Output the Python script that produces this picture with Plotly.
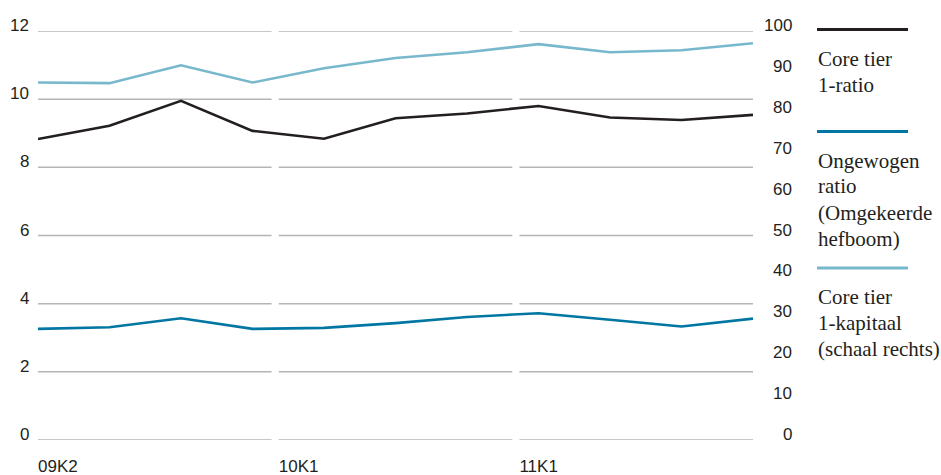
import plotly.graph_objects as go

# Quarterly capital figures, Q2 2009 - Q4 2011
quarters = ["09K2", "09K3", "09K4", "10K1", "10K2", "10K3", "10K4",
            "11K1", "11K2", "11K3", "11K4"]
core_tier1_ratio = [8.83, 9.22, 9.95, 9.07, 8.84, 9.44, 9.58, 9.80, 9.46, 9.39, 9.54]
unweighted_ratio = [3.26, 3.31, 3.57, 3.26, 3.29, 3.43, 3.61, 3.72, 3.53, 3.33, 3.56]
core_tier1_capital = [87.4, 87.25, 91.6, 87.4, 90.9, 93.4, 94.8, 96.8, 94.8, 95.3, 97.0]

year_labels = ["09K2", "10K1", "11K1"]
left_ticks = [0, 2, 4, 6, 8, 10, 12]
right_ticks = [0, 10, 20, 30, 40, 50, 60, 70, 80, 90, 100]

BLACK = "#231f20"
DARK_BLUE = "#0076a3"
LIGHT_BLUE = "#78b8cc"
GRID = "#b5b5b5"
SANS = dict(family="Liberation Sans", size=17, color="#231f20")

W, H = 941, 475
ML, MR, MT, MB = 38, 188, 31, 35
PW, PH = W - ML - MR, H - MT - MB


def px_x(px):
    return (px - ML) / PW


def px_y(py):
    return (H - MB - py) / PH


xs = list(range(len(quarters)))
fig = go.Figure()
fig.add_trace(go.Scatter(x=xs, y=core_tier1_capital, yaxis="y2", mode="lines",
                         line=dict(color=LIGHT_BLUE, width=2.6)))
fig.add_trace(go.Scatter(x=xs, y=core_tier1_ratio, mode="lines",
                         line=dict(color=BLACK, width=2.6)))
fig.add_trace(go.Scatter(x=xs, y=unweighted_ratio, mode="lines",
                         line=dict(color=DARK_BLUE, width=2.6)))

# Gridlines split into three year blocks with small gaps between them
x_max = len(quarters) - 1
gap = 0.1
seg = (x_max - 2 * gap) / 3
seg_starts = [i * (seg + gap) for i in range(3)]
shapes = []
for v in left_ticks:
    for s in seg_starts:
        shapes.append(dict(type="line", xref="x", yref="y", x0=s, x1=s + seg,
                           y0=v, y1=v, line=dict(color=GRID, width=1.5), layer="below"))

# Legend drawn at the right
legend_items = [
    (BLACK, 29.5, ["Core tier", "1-ratio"], 59),
    (DARK_BLUE, 131.5, ["Ongewogen", "ratio", "(Omgekeerde", "hefboom)"], 160.5),
    (LIGHT_BLUE, 268, ["Core tier", "1-kapitaal", "(schaal rechts)"], 297),
]
annotations = []
for color, ly, lines, ty in legend_items:
    shapes.append(dict(type="line", xref="paper", yref="paper",
                       x0=px_x(817), x1=px_x(908), y0=px_y(ly), y1=px_y(ly),
                       line=dict(color=color, width=3)))
    for i, txt in enumerate(lines):
        annotations.append(dict(text=txt, xref="paper", yref="paper",
                                x=px_x(816), y=px_y(ty + 26 * i), xanchor="left",
                                yanchor="middle", showarrow=False,
                                font=dict(family="Liberation Serif", size=21, color="#231f20")))

# Scale labels sit just above their gridlines, right-aligned on both sides
for v in left_ticks:
    annotations.append(dict(text=str(v), xref="paper", yref="y", x=px_x(31), y=v,
                            xanchor="right", yanchor="bottom", yshift=-6, showarrow=False,
                            font=SANS))
for v in right_ticks:
    annotations.append(dict(text=str(v), xref="paper", yref="y2", x=px_x(794), y=v,
                            xanchor="right", yanchor="bottom", yshift=-6, showarrow=False,
                            font=SANS))

fig.update_layout(
    width=W, height=H,
    margin=dict(l=ML, r=MR, t=MT, b=MB),
    paper_bgcolor="white", plot_bgcolor="white",
    showlegend=False,
    shapes=shapes, annotations=annotations,
    xaxis=dict(range=[0, x_max], showgrid=False, zeroline=False, showline=False,
               tickvals=seg_starts, ticktext=year_labels, ticks="", automargin=False,
               ticklabelposition="outside right", ticklabelstandoff=14,
               tickfont=SANS),
    yaxis=dict(range=[0, 12], showgrid=False, zeroline=False, showline=False,
               showticklabels=False, ticks="", automargin=False),
    yaxis2=dict(range=[0, 100], overlaying="y", side="right", showgrid=False,
                zeroline=False, showline=False, showticklabels=False, ticks="",
                automargin=False),
)

fig.write_html("out.html")
